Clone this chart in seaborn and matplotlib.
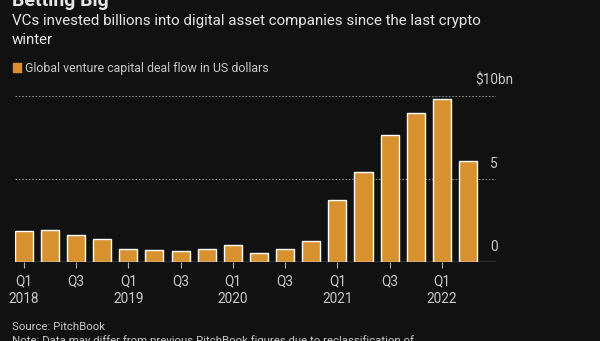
import matplotlib
matplotlib.use("Agg")
import matplotlib.pyplot as plt
import matplotlib.transforms as mtransforms
import seaborn as sns
import pandas as pd

quarters = ["Q1 2018", "Q2 2018", "Q3 2018", "Q4 2018",
            "Q1 2019", "Q2 2019", "Q3 2019", "Q4 2019",
            "Q1 2020", "Q2 2020", "Q3 2020", "Q4 2020",
            "Q1 2021", "Q2 2021", "Q3 2021", "Q4 2021",
            "Q1 2022", "Q2 2022"]
deal_flow_bn = [1.89, 1.95, 1.63, 1.39, 0.80, 0.70, 0.64, 0.76, 1.04,
                0.54, 0.76, 1.24, 3.76, 5.44, 7.67, 8.98, 9.84, 6.10]
xtick_labels = ["Q1\n2018", "Q3", "Q1\n2019", "Q3", "Q1\n2020", "Q3",
                "Q1\n2021", "Q3", "Q1\n2022"]
ytick_values = [0, 5, 10]
ytick_labels = ["0", "5", "$10bn"]

BG = "#111111"
BAR = "#D8912F"
TXT = "#E6E6E6"
TICK = "#C8C8C8"

sns.set_theme(style="dark")
plt.rcParams["font.family"] = ["Liberation Sans Narrow", "Roboto", "DejaVu Sans"]

df = pd.DataFrame({"quarter": quarters, "value": deal_flow_bn})

fig = plt.figure(figsize=(6.0, 3.41), dpi=100, facecolor=BG)
ax = fig.add_axes([0.0245, 0.2317, 0.8022, 0.4868])
ax.set_facecolor(BG)

sns.barplot(data=df, x="quarter", y="value", color=BAR, saturation=1,
            width=0.69, ax=ax)

ax.set_xlim(-0.345, 18.07)
ax.set_ylim(0, 10)
ax.set_xlabel("")
ax.set_ylabel("")
for s in ax.spines.values():
    s.set_visible(False)

# gridlines
for v in ytick_values[1:]:
    ax.axhline(v, color="#8a8a8a", lw=0.8, ls=(0, (1.5, 1.5)), zorder=0)
ax.axhline(0, color="#B0B0B0", lw=1.0, zorder=3)

ax.set_yticks([])
ax.set_xticks(list(range(0, 18, 2)))
ax.set_xticklabels(xtick_labels, fontsize=9.8, color=TICK, linespacing=1.3)
ax.tick_params(axis="x", bottom=True, length=4, width=0.8, color="#B0B0B0",
               pad=5, direction="out")

ytrans = mtransforms.blended_transform_factory(ax.transAxes, ax.transData)
offset = mtransforms.ScaledTranslation(0, 6 / 72, fig.dpi_scale_trans)
for v, lab in zip(ytick_values, ytick_labels):
    ax.text(0.996, v, lab, transform=ytrans + offset, ha="center",
            va="bottom", fontsize=9.8, color=TICK)

# titles
fig.text(0.02, 1 - 6 / 341, "Betting Big", fontsize=14, fontweight="bold",
         color=TXT, va="baseline", ha="left")
fig.text(0.02, 1 - 25 / 341,
         "VCs invested billions into digital asset companies since the last crypto",
         fontsize=10.9, color=TXT, va="baseline", ha="left")
fig.text(0.02, 1 - 44 / 341, "winter", fontsize=10.9, color=TXT,
         va="baseline", ha="left")

# legend
fig.patches.append(plt.Rectangle((13 / 600, 1 - 72 / 341), 8 / 600, 9 / 341,
                                 transform=fig.transFigure, color=BAR))
fig.text(25 / 600, 1 - 72 / 341, "Global venture capital deal flow in US dollars",
         fontsize=8.9, color=TICK, va="baseline", ha="left")

# footer
fig.text(0.02, 1 - 330 / 341, "Source: PitchBook", fontsize=8.2, color=TICK,
         va="baseline", ha="left")
fig.text(0.02, 1 - 344 / 341,
         "Note: Data may differ from previous PitchBook figures due to reclassification of",
         fontsize=8.2, color=TICK, va="baseline", ha="left")

fig.savefig("out.png", dpi=100, facecolor=BG)
